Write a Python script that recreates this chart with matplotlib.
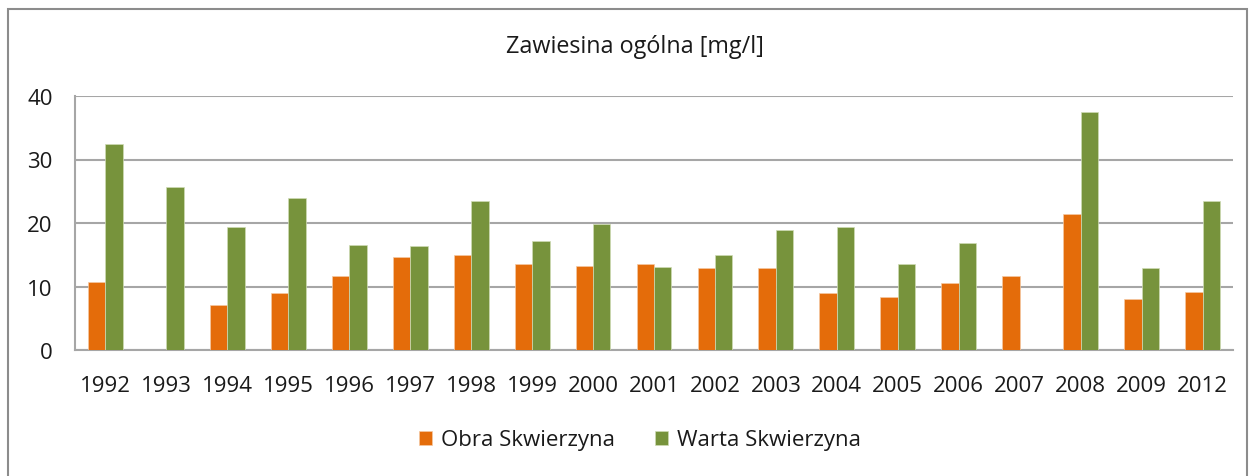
import matplotlib
matplotlib.use("Agg")
import matplotlib.pyplot as plt
import numpy as np
from matplotlib.patches import Rectangle

years = ["1992", "1993", "1994", "1995", "1996", "1997", "1998", "1999", "2000", "2001",
         "2002", "2003", "2004", "2005", "2006", "2007", "2008", "2009", "2012"]
obra = [10.7, 0, 7.1, 8.9, 11.7, 14.7, 14.9, 13.5, 13.3, 13.5,
        12.9, 12.9, 8.9, 8.3, 10.5, 11.7, 21.4, 8.1, 9.1]
warta = [32.5, 25.7, 19.3, 23.9, 16.5, 16.3, 23.4, 17.1, 19.9, 13.1,
         14.9, 18.9, 19.3, 13.5, 16.9, 0, 37.5, 12.9, 23.4]
yticks = [0, 10, 20, 30, 40]

plt.rcParams['font.family'] = ['Open Sans', 'DejaVu Sans']

W, H = 1252, 477
fig = plt.figure(figsize=(W / 100, H / 100), dpi=100)
fig.patches.append(Rectangle((8 / W, -0.1), (1247 - 8) / W, 1.1 - 10 / H,
                             transform=fig.transFigure, fill=False,
                             edgecolor='#8c8c8c', linewidth=1.5))

ax = fig.add_axes([75 / W, (H - 351) / H, (1233 - 75) / W, (351 - 97) / H])
x = np.arange(len(years))
bw = 0.286
ax.bar(x - bw / 2, obra, width=bw, color='#E46C0A', edgecolor='#f5c9a3', linewidth=0.5,
       label='Obra Skwierzyna', zorder=3)
ax.bar(x + bw / 2, warta, width=bw, color='#77933C', edgecolor='#cfdcb5', linewidth=0.5,
       label='Warta Skwierzyna', zorder=3)

ax.set_xlim(-0.5, len(years) - 0.5)
ax.set_ylim(0, 40)
ax.set_yticks(yticks)
ax.set_xticks(x)
ax.set_xticklabels(years)
ax.grid(axis='y', color='#a6a6a6', linewidth=1.5, zorder=0)
for s in ['top', 'right']:
    ax.spines[s].set_visible(False)
for s in ['left', 'bottom']:
    ax.spines[s].set_color('#a6a6a6')
    ax.spines[s].set_linewidth(1.5)
ax.tick_params(axis='both', length=0, labelsize=16, colors='#1a1a1a')
ax.tick_params(axis='x', pad=18)
ax.tick_params(axis='y', pad=16)

fig.text(635 / W, 1 - 47 / H, 'Zawiesina ogólna [mg/l]', ha='center', va='center',
         fontsize=16.8, color='#1a1a1a')

leg = fig.legend(loc='center', bbox_to_anchor=(640 / W, 1 - 441 / H), ncol=2, frameon=False,
                 fontsize=16, handlelength=0.6, handleheight=0.6, handletextpad=0.4,
                 columnspacing=1.8)
for t in leg.get_texts():
    t.set_color('#1a1a1a')

fig.savefig('out.png', dpi=100)
